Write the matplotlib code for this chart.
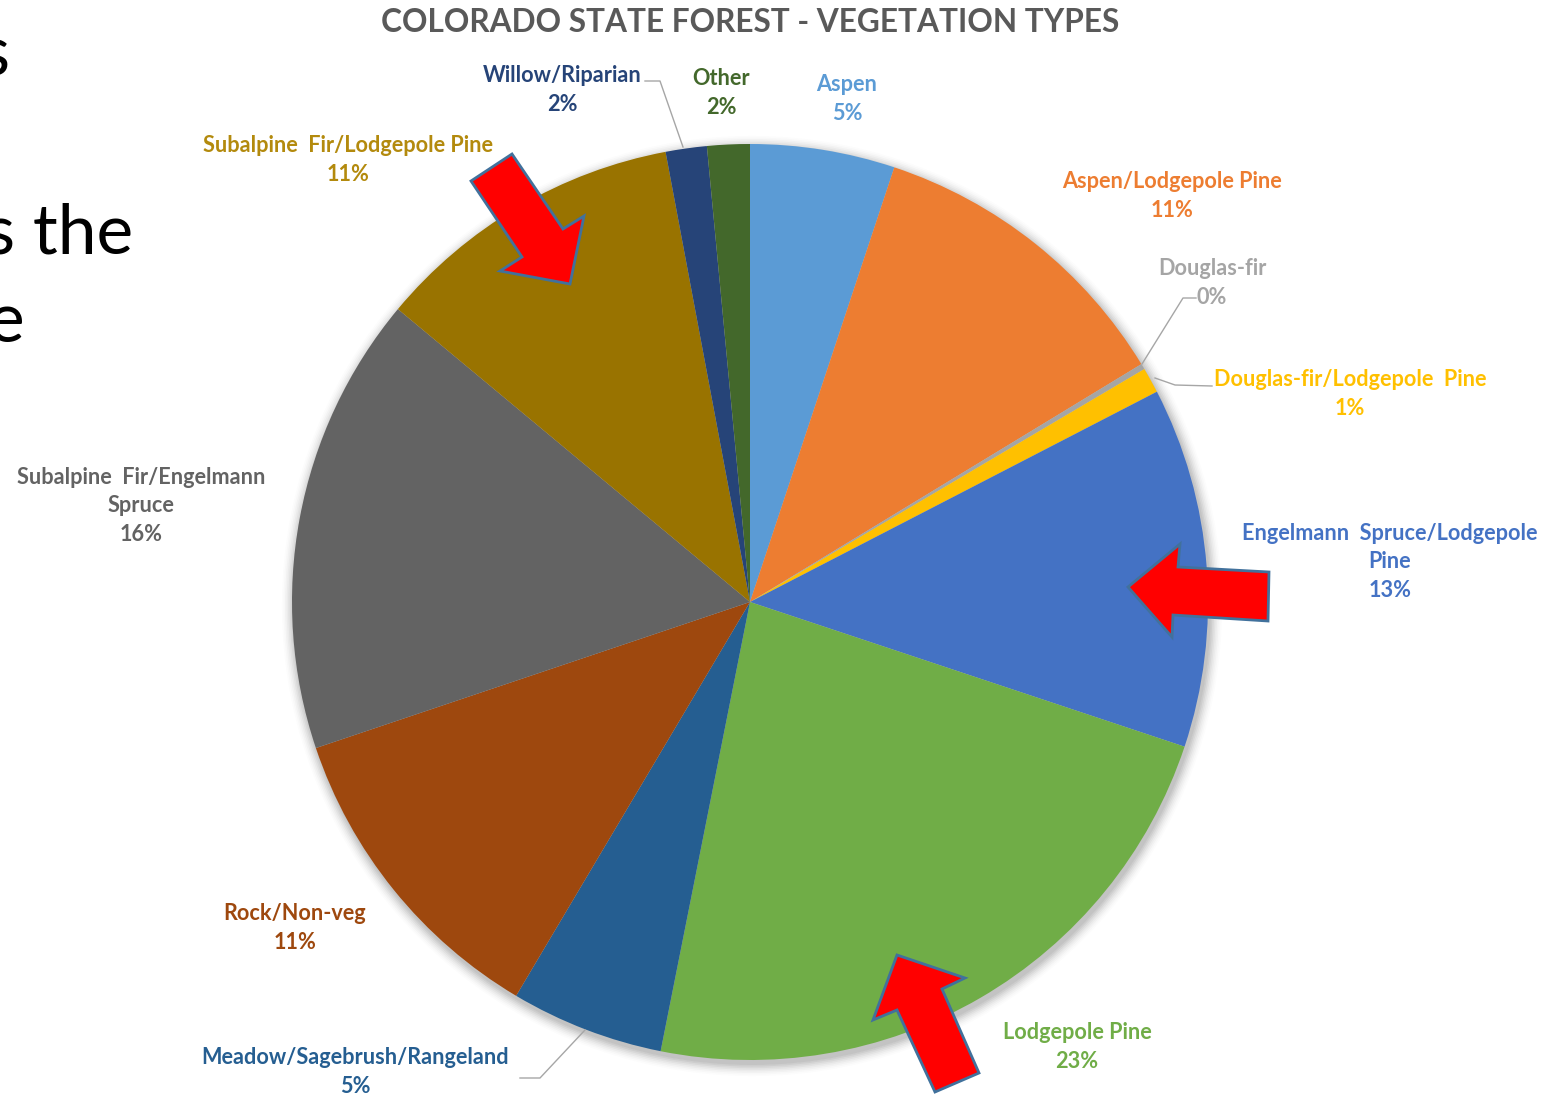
import matplotlib
matplotlib.use("Agg")
import matplotlib.pyplot as plt
from matplotlib.patches import Polygon, Circle
import numpy as np

# ---------------- data ----------------
categories = ["Aspen", "Aspen/Lodgepole Pine", "Douglas-fir", "Douglas-fir/Lodgepole  Pine",
              "Engelmann  Spruce/Lodgepole\nPine", "Lodgepole Pine", "Meadow/Sagebrush/Rangeland",
              "Rock/Non-veg", "Subalpine  Fir/Engelmann\nSpruce", "Subalpine  Fir/Lodgepole Pine",
              "Willow/Riparian", "Other"]
values = [5.1, 11.2, 0.2, 0.9, 12.7, 23.0, 5.4, 11.3, 16.2, 11.0, 1.45, 1.5]
pct_labels = ["5%", "11%", "0%", "1%", "13%", "23%", "5%", "11%", "16%", "11%", "2%", "2%"]
colors = ["#5B9BD5", "#ED7D31", "#A5A5A5", "#FFC000", "#4472C4", "#70AD47", "#255E91",
          "#9E480E", "#636363", "#997300", "#264478", "#43682B"]
label_colors = ["#5B9BD5", "#ED7D31", "#A5A5A5", "#FFC000", "#4472C4", "#70AD47", "#255E91",
                "#9E480E", "#636363", "#B38A0D", "#264478", "#43682B"]

# ---------------- layout (pixel coords, y down) ----------------
W, H = 1555, 1094
CX, CY, R = 750, 602, 458
label_pos = [(847, 99), (1172, 196), (1212, 283), (1350, 394), (1390, 562), (1077, 1047),
             (355, 1072), (295, 928), (141, 506), (348, 160), (562, 90), (721, 93)]
leaders = {
    2: [(1196, 298), (1183, 298), (1142, 364)],
    3: [(1155, 378), (1175, 385), (1212, 386)],
    6: [(585, 1030), (540, 1078), (520, 1078)],
    10: [(645, 81), (660, 81), (683, 147)],
}
arrows = [
    [(471, 181), (512, 154), (563, 229), (584, 216), (570, 284), (500, 271), (522, 257)],
    [(1128, 587), (1180, 544), (1178, 567), (1269, 572), (1268, 621), (1173, 615), (1172, 637)],
    [(897, 955), (965, 978), (942, 989), (979, 1073), (935, 1092), (897, 1010), (873, 1020)],
]

FONT = ["Lato", "DejaVu Sans"]
plt.rcParams["font.family"] = FONT

fig = plt.figure(figsize=(W / 100, H / 100), dpi=100)
ax = fig.add_axes([0, 0, 1, 1])

# soft shadow
for i, a in enumerate(np.linspace(0.05, 0.012, 8)):
    ax.add_patch(Circle((CX + 2, CY + 4), R + 1 + i * 1.6, facecolor="#000000", alpha=a,
                        edgecolor="none", zorder=0))

ax.pie(values, colors=colors, startangle=-90, counterclock=True, center=(CX, CY), radius=R,
       wedgeprops=dict(linewidth=0, edgecolor="none", zorder=1), normalize=True)

ax.set_xlim(0, W)
ax.set_ylim(H, 0)
ax.set_aspect("auto")
ax.axis("off")

# labels
for i, (cat, pct) in enumerate(zip(categories, pct_labels)):
    x, y = label_pos[i]
    ax.text(x, y, cat + "\n" + pct, ha="center", va="center", fontsize=15.6,
            fontweight="bold", color=label_colors[i], linespacing=1.47, zorder=5)

for k, pts in leaders.items():
    xs, ys = zip(*pts)
    ax.plot(xs, ys, color="#A6A6A6", lw=1.0, zorder=4)

# title
ax.text(CX, 22, "COLORADO STATE FOREST - VEGETATION TYPES", ha="center", va="center",
        fontsize=22.8, fontweight="bold", color="#595959")

# clipped slide text on the left
ax.text(10, 75, "s", ha="right", va="baseline", fontsize=50, color="black")
ax.text(133, 253, "s the", ha="right", va="baseline", fontsize=50, color="black")
ax.text(24, 342, "e", ha="right", va="baseline", fontsize=50, color="black")

# red arrows
for pts in arrows:
    ax.add_patch(Polygon(pts, closed=True, facecolor="#FF0000", edgecolor="#41719C",
                         linewidth=2, zorder=6))

fig.savefig("out.png", dpi=100)
